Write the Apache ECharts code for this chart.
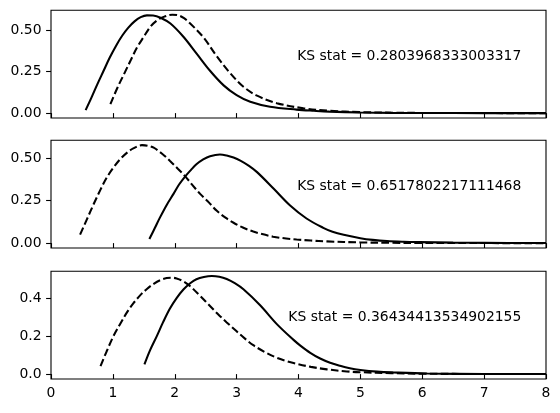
<!DOCTYPE html>
<html>
<head>
<meta charset="utf-8">
<script src="https://cdn.jsdelivr.net/npm/echarts@6/dist/echarts.min.js"></script>
<style>
html,body{margin:0;padding:0;background:#fff;}
#chart{width:560px;height:413px;}
</style>
</head>
<body>
<div id="chart"></div>
<script>
// ---- data ----
const panel1Solid = [[0.56,0.018],[0.65,0.09],[0.75,0.175],[0.85,0.255],[0.95,0.335],[1.05,0.405],[1.15,0.466],[1.25,0.515],[1.35,0.553],[1.45,0.578],[1.55,0.589],[1.65,0.588],[1.77,0.575],[1.93,0.54],[2.14,0.46],[2.36,0.355],[2.57,0.255],[2.79,0.167],[3.0,0.108],[3.22,0.068],[3.54,0.038],[3.97,0.021],[4.25,0.014],[4.5,0.009],[5.0,0.004],[5.5,0.0015],[6.0,0.0006],[7.0,0.0001],[8.0,0.0]];
const panel1Dashed = [[0.96,0.054],[1.07,0.15],[1.18,0.235],[1.29,0.32],[1.39,0.395],[1.5,0.46],[1.61,0.522],[1.72,0.56],[1.82,0.58],[1.96,0.593],[2.05,0.59],[2.15,0.572],[2.25,0.54],[2.46,0.458],[2.68,0.342],[2.9,0.239],[3.11,0.159],[3.33,0.105],[3.65,0.06],[4.08,0.029],[4.51,0.014],[5.0,0.006],[5.5,0.0025],[6.0,0.001],[7.0,0.0002],[8.0,0.0]];
const panel2Solid = [[1.59,0.024],[1.68,0.09],[1.76,0.15],[1.87,0.225],[1.98,0.29],[2.07,0.345],[2.17,0.393],[2.26,0.43],[2.35,0.464],[2.46,0.493],[2.57,0.512],[2.73,0.522],[2.84,0.516],[2.95,0.504],[3.06,0.486],[3.2,0.455],[3.33,0.418],[3.6,0.32],[3.86,0.223],[4.13,0.145],[4.4,0.09],[4.55,0.067],[4.73,0.049],[5.0,0.029],[5.2,0.019],[5.43,0.012],[5.7,0.008],[5.95,0.006],[6.5,0.003],[7.0,0.0015],[8.0,0.0003]];
const panel2Dashed = [[0.47,0.05],[0.58,0.14],[0.69,0.23],[0.8,0.315],[0.9,0.385],[1.01,0.445],[1.12,0.495],[1.23,0.533],[1.33,0.558],[1.47,0.577],[1.56,0.574],[1.66,0.562],[1.8,0.525],[1.92,0.485],[2.05,0.438],[2.17,0.393],[2.29,0.34],[2.41,0.29],[2.55,0.24],[2.68,0.19],[2.82,0.15],[2.95,0.12],[3.1,0.092],[3.27,0.068],[3.38,0.056],[3.59,0.038],[3.8,0.027],[3.97,0.021],[4.2,0.015],[4.46,0.01],[5.0,0.004],[5.5,0.002],[6.0,0.001],[7.0,0.0002],[8.0,0.0]];
const panel3Solid = [[1.51,0.051],[1.6,0.125],[1.71,0.2],[1.81,0.272],[1.92,0.344],[2.03,0.4],[2.14,0.445],[2.25,0.478],[2.35,0.499],[2.47,0.511],[2.6,0.516],[2.72,0.512],[2.84,0.5],[2.97,0.478],[3.11,0.446],[3.38,0.362],[3.65,0.263],[3.92,0.18],[4.03,0.15],[4.19,0.112],[4.35,0.082],[4.51,0.06],[4.67,0.044],[4.83,0.031],[5.0,0.022],[5.27,0.013],[5.54,0.0086],[6.08,0.003],[7.0,0.0005],[8.0,0.0001]];
const panel3Dashed = [[0.8,0.042],[0.9,0.12],[1.01,0.2],[1.12,0.265],[1.23,0.326],[1.33,0.372],[1.44,0.414],[1.55,0.448],[1.66,0.475],[1.77,0.495],[1.87,0.505],[1.95,0.507],[2.03,0.503],[2.14,0.488],[2.25,0.462],[2.4,0.415],[2.55,0.365],[2.7,0.315],[2.84,0.272],[3.0,0.225],[3.13,0.188],[3.27,0.152],[3.45,0.117],[3.64,0.087],[3.8,0.069],[3.92,0.058],[4.2,0.038],[4.46,0.025],[4.78,0.014],[5.0,0.01],[5.5,0.005],[6.0,0.002],[7.0,0.0005],[8.0,0.0001]];
const ksStats = ['0.2803968333003317', '0.6517802217111468', '0.36434413534902155'];
const yTicksTop = [0, 0.25, 0.5];
const yTicksMid = [0, 0.25, 0.5];
const yTicksBottom = [0, 0.2, 0.4];
const xTickLabels = ['0','1','2','3','4','5','6','7','8'];

// ---- layout / style ----
const FONT = 'DejaVu Sans';
const FS = 13.9;
const gridLeft = 51, gridRight = 14, gridH = 107.7;
const gridTops = [10.3, 140.3, 271.3];
const yRanges = [[-0.0295, 0.6195], [-0.0288, 0.6055], [-0.0258, 0.5408]];
const yTickSets = [yTicksTop, yTicksMid, yTicksBottom];
const yDecimals = [2, 2, 1];
const series = [[panel1Solid, panel1Dashed], [panel2Solid, panel2Dashed], [panel3Solid, panel3Dashed]];

const chart = echarts.init(document.getElementById('chart'), null, {renderer: 'canvas'});

const grids = [], xAxes = [], yAxes = [], allSeries = [], graphics = [];
for (let i = 0; i < 3; i++) {
  grids.push({left: gridLeft, right: gridRight, top: gridTops[i], height: gridH,
    show: true, borderColor: '#000', borderWidth: 1.1, backgroundColor: 'transparent'});
  xAxes.push({
    type: 'value', gridIndex: i, min: 0, max: 8, interval: 1,
    axisLine: {show: false},
    axisTick: {show: true, inside: false, length: 4.9, lineStyle: {color: '#000', width: 1.1}},
    axisLabel: {show: i === 2, margin: 7, color: '#000', fontFamily: FONT, fontSize: FS,
      formatter: v => xTickLabels[Math.round(v)]},
    splitLine: {show: false}
  });
  const dec = yDecimals[i];
  yAxes.push({
    type: 'value', gridIndex: i, min: yRanges[i][0], max: yRanges[i][1],
    axisLine: {show: false},
    axisTick: {show: true, inside: false, length: 4.9, lineStyle: {color: '#000', width: 1.1},
      customValues: yTickSets[i]},
    axisLabel: {show: true, margin: 9.5, color: '#000', fontFamily: FONT, fontSize: FS,
      customValues: yTickSets[i], formatter: v => Number(v).toFixed(dec)},
    splitLine: {show: false}
  });
  const [solid, dashed] = series[i];
  allSeries.push({type: 'line', xAxisIndex: i, yAxisIndex: i, data: solid, showSymbol: false,
    smooth: 0.35, lineStyle: {color: '#000', width: 2.08, cap: 'butt'}, animation: false, silent: true});
  allSeries.push({type: 'line', xAxisIndex: i, yAxisIndex: i, data: dashed, showSymbol: false,
    smooth: 0.35, lineStyle: {color: '#000', width: 2.08, type: [7.7, 3.3], cap: 'butt'}, animation: false, silent: true});
  const plotW = 560 - gridLeft - gridRight;
  graphics.push({type: 'text', x: gridLeft + 0.95 * plotW, y: gridTops[i] + (1 - 0.57) * gridH,
    style: {text: 'KS stat = ' + ksStats[i], fill: '#000', font: FS + 'px "' + FONT + '"',
      textAlign: 'right', textVerticalAlign: 'middle'}});
}

chart.setOption({
  animation: false,
  backgroundColor: '#fff',
  grid: grids,
  xAxis: xAxes,
  yAxis: yAxes,
  series: allSeries,
  graphic: graphics
});
</script>
</body>
</html>
